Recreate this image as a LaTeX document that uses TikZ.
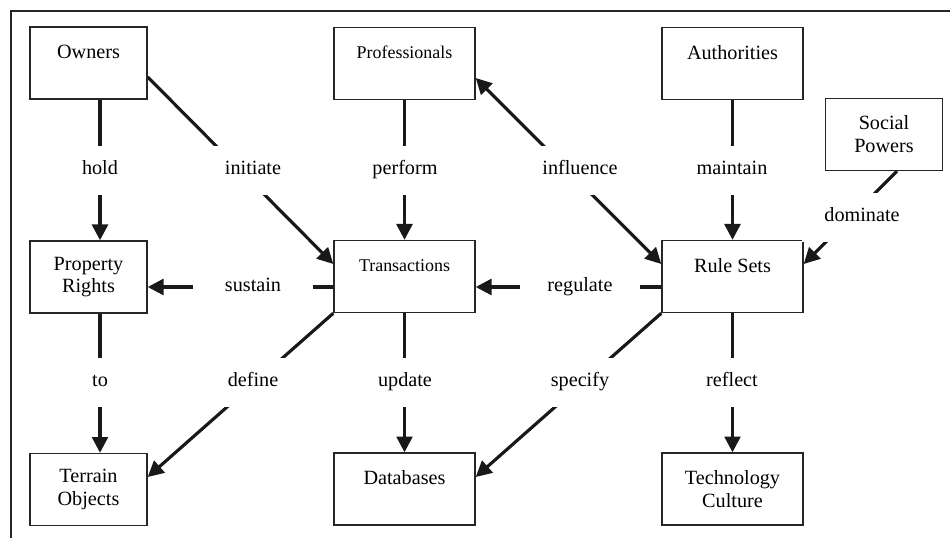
\documentclass[tikz,border=0pt]{standalone}
\usepackage{fontspec}
\setmainfont{Liberation Serif}
\usetikzlibrary{arrows.meta,backgrounds}

\begin{document}
\begin{tikzpicture}[
  x=0.02cm, y=-0.02cm,
  font=\fontsize{11.5}{13}\selectfont,
  box/.style={rectangle, draw=black!85, line width=0.8pt, inner sep=0pt, minimum height=1.44cm, align=center},
  wide/.style={box, minimum width=2.82cm},
  narrow/.style={box, minimum width=2.34cm},
  small/.style={font=\fontsize{10.2}{13}\selectfont},
  rel/.style={rectangle, fill=white, inner sep=0pt, minimum width=2.4cm, minimum height=0.98cm, text height=0.7em, text depth=0.22em},
  arr/.style={-{Triangle[length=9pt, width=9pt]}, line width=1.8pt, draw=black!90},
  both/.style={arr, {Triangle[length=9pt, width=9pt]}-{Triangle[length=9pt, width=9pt]}},
]
\useasboundingbox (0,0) rectangle (950,538);
\draw[line width=0.6pt, black!85] (11,538) -- (11,11) -- (950,11);

% ---------------- boxes ----------------
\node[narrow] (owners) at (88.5, 63) {Owners\\~};
\node[wide, small] (prof) at (404.5, 63.5) {Professionals\\~};
\node[wide] (auth) at (732.5, 63.5) {Authorities\\~};
\node[narrow] (social) at (884, 134.5) {Social\\Powers};

\node[narrow] (prop) at (88.5, 277) {Property\\Rights};
\node[wide, small] (trans) at (404.5, 276.5) {Transactions\\~};
\node[wide] (rules) at (732.5, 276.5) {Rule Sets\\~};

\node[narrow] (terrain) at (88.5, 489.5) {Terrain\\Objects};
\node[wide] (db) at (404.5, 489) {Databases\\~};
\node[wide] (tech) at (732.5, 489) {Technology\\Culture};

% ---------------- relation labels ----------------
\node[rel] (l-hold) at (100, 170) {hold};
\node[rel] (l-initiate) at (253, 170) {initiate};
\node[rel] (l-perform) at (405, 170) {perform};
\node[rel] (l-influence) at (580, 170) {influence};
\node[rel] (l-maintain) at (732, 170) {maintain};
\node[rel] (l-dominate) at (862, 217) {dominate};
\node[rel] (l-sustain) at (253, 287) {sustain};
\node[rel] (l-regulate) at (580, 287) {regulate};
\node[rel] (l-to) at (100, 382) {to};
\node[rel] (l-define) at (253, 382) {define};
\node[rel] (l-update) at (405, 382) {update};
\node[rel] (l-specify) at (580, 382) {specify};
\node[rel] (l-reflect) at (732, 382) {reflect};

% ---------------- connectors ----------------
\begin{scope}[on background layer]
\draw[arr] (l-hold |- owners.south) -- (l-hold |- prop.north);
\draw[arr] ([yshift=-0.28cm]owners.east) -- ([yshift=0.25cm]trans.west);
\draw[arr] (prof.south) -- (trans.north);
\draw[both] ([yshift=-0.29cm]prof.east) -- ([yshift=0.25cm]rules.west);
\draw[arr] (auth.south) -- (rules.north);
\draw[arr] ([xshift=0.26cm]social.south) -- ([yshift=0.25cm]rules.east);
\draw[arr] (rules.west |- l-regulate) -- (trans.east |- l-regulate);
\draw[arr] (trans.west |- l-sustain) -- (prop.east |- l-sustain);
\draw[arr] (l-to |- prop.south) -- (l-to |- terrain.north);
\draw[arr] (trans.south west) -- ([yshift=0.25cm]terrain.east);
\draw[arr] (trans.south) -- (db.north);
\draw[arr] (rules.south west) -- ([yshift=0.24cm]db.east);
\draw[arr] (rules.south) -- (tech.north);
\end{scope}
\end{tikzpicture}
\end{document}
